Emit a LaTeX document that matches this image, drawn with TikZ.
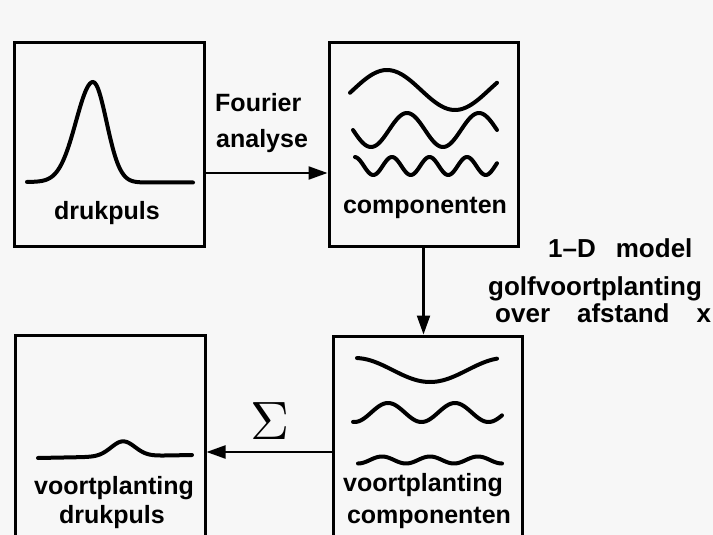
\documentclass[tikz,border=0pt]{standalone}
\usepackage{fontspec}
\setmainfont{Liberation Sans}
\usetikzlibrary{arrows.meta}
\definecolor{bg}{RGB}{247,247,247}
\begin{document}
\begin{tikzpicture}[x=1pt,y=-1pt,
  box/.style={draw, line width=3pt, inner sep=0pt},
  wave/.style={line width=4pt, line cap=round, line join=round},
  conn/.style={line width=2.2pt, -{Triangle[length=19pt,width=13pt]}},
  lbl/.style={font=\fontsize{25}{30}\selectfont\bfseries, inner sep=0pt, anchor=base},
  biglbl/.style={font=\fontsize{26}{30}\selectfont\bfseries, inner sep=0pt, anchor=base west}]
\fill[bg] (0,0) rectangle (713,535);
\useasboundingbox (0,0) rectangle (713,535);

% boxes
\node[box, minimum width=190pt, minimum height=203pt] (B1) at (109.5,144.5) {};
\node[box, minimum width=189pt, minimum height=203pt] (B2) at (423.5,144.5) {};
\node[box, minimum width=189pt, minimum height=209pt] (B3) at (427.5,440.5) {};
\node[box, minimum width=190pt, minimum height=210pt] (B4) at (110,440) {};

% box texts
\node[lbl] (t1) at (107,219) {drukpuls};
\node[lbl] (t2) at (425,213) {componenten};
\node[lbl] (t3a) at (423,491) {voortplanting};
\node[lbl] (t3b) at (429,523) {componenten};
\node[lbl] (t4a) at (114,494) {voortplanting};
\node[lbl] (t4b) at (112,523) {drukpuls};

% arrow labels
\node[lbl, anchor=base west] (f1) at (215,112) {Fourier};
\node[lbl, anchor=base west] (f2) at (216,147) {analyse};
\node[scale=5.4, inner sep=0pt] (sig) at (270,421) {$\Sigma$};
\node[biglbl] (m1) at (548,257) {1--D\hspace{20pt}model};
\node[biglbl] (m2) at (488,295) {golfvoortplanting};
\node[biglbl] (m3) at (495,322) {over\hspace{27pt}afstand\hspace{27pt}x};

% connectors
\coordinate (r1) at (0,173);
\coordinate (r2) at (0,452);
\draw[conn] (B1.east |- r1) -- (B2.west |- r1);
\draw[conn] (B2.south) -- (B3.north -| B2.south);
\draw[conn] (B3.west |- r2) -- (B4.east |- r2);

% pressure pulse (top left)
\draw[wave] plot[domain=27:93, samples=60, smooth] (\x, {182-100*exp(-(\x-93)*(\x-93)/578)})
  -- plot[domain=93:193, samples=60, smooth] (\x, {182.5-100.5*exp(-(\x-93)*(\x-93)/364)});

% components (top right)
\draw[wave] plot[domain=350:497, samples=80, smooth] (\x, {90-20*cos((\x-387)/136*360)});
\draw[wave] plot[domain=353:497, samples=100, smooth] (\x, {130-17*cos((\x-407)/72*360)});
\draw[wave] plot[domain=355:497, samples=140, smooth] (\x, {166-9*cos((\x-392)/37.5*360)});

% propagated components (bottom right)
\draw[wave] plot[domain=357:497, samples=80, smooth] (\x, {370+12*cos((\x-430)/150*360)});
\draw[wave] plot[domain=353:502, samples=100, smooth] (\x, {412.5-9.5*cos((\x-388)/67*360)});
\draw[wave] plot[domain=358:502, samples=120, smooth] (\x, {460-3.5*cos((\x-382)/48*360)});

% propagated pulse (bottom left)
\draw[wave] plot[domain=38:192, samples=100, smooth] (\x, {458-3*(\x-38)/154-15*exp(-(\x-123)*(\x-123)/288)});
\end{tikzpicture}
\end{document}
